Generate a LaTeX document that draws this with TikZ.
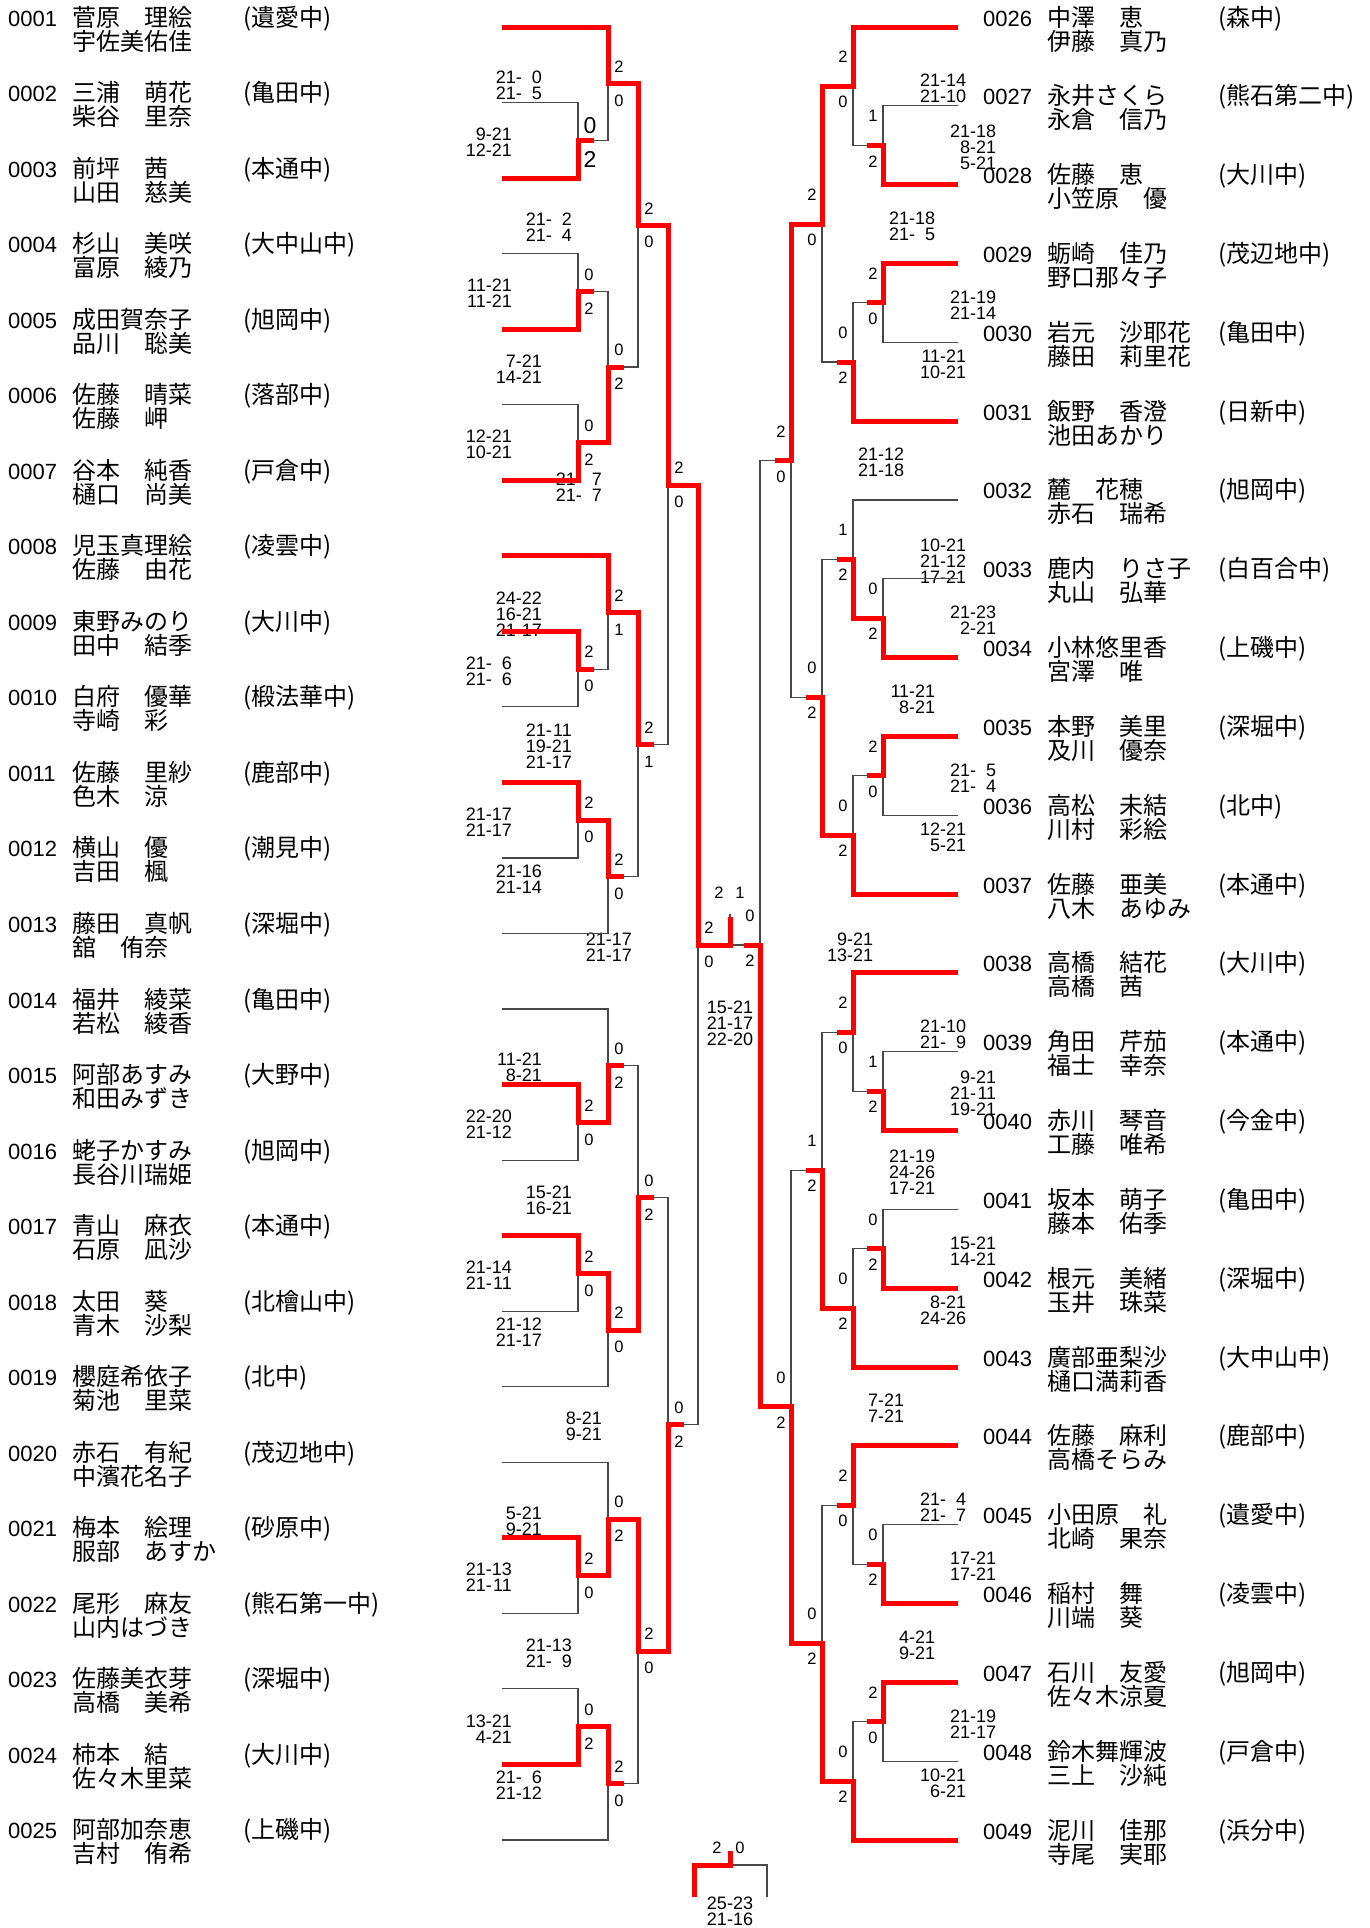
\documentclass[tikz,border=0pt]{standalone}
\usepackage{fontspec}
\setmainfont{Liberation Sans}
\newfontfamily\jp{Noto Sans CJK JP}
\usetikzlibrary{calc}
\definecolor{winred}{RGB}{255,0,0}
\definecolor{lossgray}{RGB}{72,72,72}
\newcommand\gsc[2]{\makebox[1.112em][r]{#1}-\makebox[1.112em][r]{#2}}
\newcommand\zs{\hspace*{1em}}

% bracket: match/x/y/upper/lower/winner
\def\leftgeo{a1/578/140.3/e2/e3/e3,a2/608/83.7/e1/a1/e1,
  a3/578/291.4/e4/e5/e5,a4/578/442.5/e6/e7/e7,
  a5/608/367.0/a3/a4/a4,a6/638/225.3/a2/a5/a2,
  a7/578/669.1/e9/e10/e9,a8/608/612.4/e8/a7/e8,
  a9/578/820.2/e11/e12/e11,a10/608/876.8/a9/e13/a9,
  a11/638/744.6/a8/a10/a8,a12/668/485.0/a6/a11/a6,
  a13/578/1122.4/e15/e16/e15,a14/608/1065.7/e14/a13/a13,
  a15/578/1273.4/e17/e18/e17,a16/608/1330.1/a15/e19/a15,
  a17/638/1197.9/a14/a16/a16,a18/578/1575.6/e21/e22/e21,
  a19/608/1519.0/e20/a18/a18,a20/578/1726.7/e23/e24/e24,
  a21/608/1783.3/a20/e25/a20,a22/638/1651.2/a19/a21/a19,
  a23/668/1424.5/a17/a22/a22,a24/698/945/a12/a23/a12}
\def\rightgeo{b1/883/145.3/e27/e28/e28,b2/853/86.1/e26/b1/e26,
  b3/883/302.9/e29/e30/e29,b4/853/362.0/b3/e31/e31,
  b5/822/224.1/b2/b4/b2,b6/883/618.2/e33/e34/e34,
  b7/853/559.1/e32/b6/b6,b8/883/775.9/e35/e36/e35,
  b9/853/835.0/b8/e37/e37,b10/822/697.1/b7/b9/b9,
  b11/791/460.6/b5/b10/b5,b12/883/1091.2/e39/e40/e40,
  b13/853/1032.1/e38/b12/e38,b14/883/1248.9/e41/e42/e42,
  b15/853/1308.0/b14/e43/e43,b16/822/1170.1/b13/b15/b15,
  b17/883/1564.2/e45/e46/e46,b18/853/1505.1/e44/b17/e44,
  b19/883/1721.9/e47/e48/e47,b20/853/1781.0/b19/e49/e49,
  b21/822/1643.0/b18/b20/b20,b22/791/1406.6/b16/b21/b21,
  b23/760/945/b11/b22/b22}

\begin{document}
\begin{tikzpicture}[x=1pt, y=-1pt,
  lost/.style={draw=lossgray, line width=1.1pt},
  won/.style={draw=winred, line width=5pt},
  idx/.style={font=\fontsize{22}{24}\selectfont, inner sep=0pt, anchor=base west},
  jname/.style={font={\jp\fontsize{24}{24}\selectfont}, inner sep=0pt, anchor=base west},
  res/.style={font=\fontsize{16.5}{18}\selectfont, inner sep=0pt},
  lsc/.style={font=\fontsize{18}{16}\selectfont, align=right, inner sep=0pt, anchor=east},
  rsc/.style={lsc, anchor=west},
  csc/.style={font=\fontsize{18}{16}\selectfont, align=center, inner sep=0pt},
]
\useasboundingbox (0,0) rectangle (1369,1928);

% entries, left half
\foreach [count=\k] \ix/\na/\nb/\sch in {0001/菅原\zs 理絵/宇佐美佑佳/遺愛中,
  0002/三浦\zs 萌花/柴谷\zs 里奈/亀田中,
  0003/前坪\zs 茜/山田\zs 慈美/本通中,
  0004/杉山\zs 美咲/富原\zs 綾乃/大中山中,
  0005/成田賀奈子/品川\zs 聡美/旭岡中,
  0006/佐藤\zs 晴菜/佐藤\zs 岬/落部中,
  0007/谷本\zs 純香/樋口\zs 尚美/戸倉中,
  0008/児玉真理絵/佐藤\zs 由花/凌雲中,
  0009/東野みのり/田中\zs 結季/大川中,
  0010/白府\zs 優華/寺崎\zs 彩/椴法華中,
  0011/佐藤\zs 里紗/色木\zs 涼/鹿部中,
  0012/横山\zs 優/吉田\zs 楓/潮見中,
  0013/藤田\zs 真帆/舘\zs 侑奈/深堀中,
  0014/福井\zs 綾菜/若松\zs 綾香/亀田中,
  0015/阿部あすみ/和田みずき/大野中,
  0016/蛯子かすみ/長谷川瑞姫/旭岡中,
  0017/青山\zs 麻衣/石原\zs 凪沙/本通中,
  0018/太田\zs 葵/青木\zs 沙梨/北檜山中,
  0019/櫻庭希依子/菊池\zs 里菜/北中,
  0020/赤石\zs 有紀/中濱花名子/茂辺地中,
  0021/梅本\zs 絵理/服部\zs あすか/砂原中,
  0022/尾形\zs 麻友/山内はづき/熊石第一中,
  0023/佐藤美衣芽/高橋\zs 美希/深堀中,
  0024/柿本\zs 結/佐々木里菜/大川中,
  0025/阿部加奈恵/吉村\zs 侑希/上磯中}{
  \coordinate (e\k) at (502,{27+75.54*(\k-1)});
  \node[idx] (no\k) at ([shift={(-494,-1)}]e\k) {\ix};
  \node[jname] (na\k) at ([xshift=64pt]no\k.base west) {\na};
  \node[jname] (nb\k) at ([yshift=-24pt]na\k.base west) {\nb};
  \node[jname] (sc\k) at ([xshift=235pt]no\k.base west) {(\sch)};
}

% entries, right half
\foreach [count=\k from 26] \ix/\na/\nb/\sch in {0026/中澤\zs 恵/伊藤\zs 真乃/森中,
  0027/永井さくら/永倉\zs 信乃/熊石第二中,
  0028/佐藤\zs 恵/小笠原\zs 優/大川中,
  0029/蛎崎\zs 佳乃/野口那々子/茂辺地中,
  0030/岩元\zs 沙耶花/藤田\zs 莉里花/亀田中,
  0031/飯野\zs 香澄/池田あかり/日新中,
  0032/麓\zs 花穂/赤石\zs 瑞希/旭岡中,
  0033/鹿内\zs りさ子/丸山\zs 弘華/白百合中,
  0034/小林悠里香/宮澤\zs 唯/上磯中,
  0035/本野\zs 美里/及川\zs 優奈/深堀中,
  0036/高松\zs 未結/川村\zs 彩絵/北中,
  0037/佐藤\zs 亜美/八木\zs あゆみ/本通中,
  0038/高橋\zs 結花/高橋\zs 茜/大川中,
  0039/角田\zs 芹茄/福士\zs 幸奈/本通中,
  0040/赤川\zs 琴音/工藤\zs 唯希/今金中,
  0041/坂本\zs 萌子/藤本\zs 佑季/亀田中,
  0042/根元\zs 美緒/玉井\zs 珠菜/深堀中,
  0043/廣部亜梨沙/樋口満莉香/大中山中,
  0044/佐藤\zs 麻利/高橋そらみ/鹿部中,
  0045/小田原\zs 礼/北崎\zs 果奈/遺愛中,
  0046/稲村\zs 舞/川端\zs 葵/凌雲中,
  0047/石川\zs 友愛/佐々木涼夏/旭岡中,
  0048/鈴木舞輝波/三上\zs 沙純/戸倉中,
  0049/泥川\zs 佳那/寺尾\zs 実耶/浜分中}{
  \coordinate (e\k) at (958,{27+78.83*(\k-26)});
  \node[idx] (no\k) at ([shift={(25,-1)}]e\k) {\ix};
  \node[jname] (na\k) at ([xshift=64pt]no\k.base west) {\na};
  \node[jname] (nb\k) at ([yshift=-24pt]na\k.base west) {\nb};
  \node[jname] (sc\k) at ([xshift=235pt]no\k.base west) {(\sch)};
}

% match points
\foreach \m/\x/\y/\hi/\lo/\wn in \leftgeo {\coordinate (\m) at (\x,\y);}
\foreach \m/\x/\y/\hi/\lo/\wn in \rightgeo {\coordinate (\m) at (\x,\y);}
\coordinate (fin) at (730,945);
\coordinate (t1) at (694,1897);
\coordinate (t2) at (767,1897);
\coordinate (thd) at (730,1865);

% games won
\node[res, font=\fontsize{23}{24}\selectfont] (a1-u) at ([shift={(12,-15)}]a1) {0};
\node[res, font=\fontsize{23}{24}\selectfont] (a1-d) at ([shift={(12,19)}]a1) {2};
\foreach \m/\ga/\gb in {a2/2/0,a3/0/2,a4/0/2,a5/0/2,a6/2/0,a7/2/0,a8/2/1,a9/2/0,
  a10/2/0,a11/2/1,a12/2/0,a13/2/0,a14/0/2,a15/2/0,a16/2/0,a17/0/2,a18/2/0,
  a19/0/2,a20/0/2,a21/2/0,a22/2/0,a23/0/2,a24/2/0}{
  \node[res] (\m-u) at ([shift={(11,-17)}]\m) {\ga};
  \node[res] (\m-d) at ([shift={(11,17)}]\m) {\gb};
}
\foreach \m/\ga/\gb in {b1/1/2,b2/2/0,b3/2/0,b4/0/2,b5/2/0,b6/0/2,b7/1/2,b8/2/0,
  b9/0/2,b10/0/2,b11/2/0,b12/1/2,b13/2/0,b14/0/2,b15/0/2,b16/1/2,b17/0/2,
  b18/2/0,b19/2/0,b20/0/2,b21/0/2,b22/0/2,b23/0/2}{
  \node[res] (\m-u) at ([shift={(-10,-29)}]\m) {\ga};
  \node[res] (\m-d) at ([shift={(-10,16)}]\m) {\gb};
}
\node[res] (fin-u) at ([shift={(-11,-52)}]fin) {2};
\node[res] (fin-v) at ([shift={(10,-52)}]fin) {1};
\node[res] (thd-u) at ([shift={(-13,-17)}]thd) {2};
\node[res] (thd-v) at ([shift={(10,-17)}]thd) {0};

% game scores
\foreach \m/\scr in {a1/{\gsc{9}{21}\\\gsc{12}{21}},
  a2/{\gsc{21}{0}\\\gsc{21}{5}},
  a3/{\gsc{11}{21}\\\gsc{11}{21}},
  a4/{\gsc{12}{21}\\\gsc{10}{21}},
  a5/{\gsc{7}{21}\\\gsc{14}{21}},
  a6/{\gsc{21}{2}\\\gsc{21}{4}},
  a7/{\gsc{21}{6}\\\gsc{21}{6}},
  a8/{\gsc{24}{22}\\\gsc{16}{21}\\\gsc{21}{17}},
  a9/{\gsc{21}{17}\\\gsc{21}{17}},
  a10/{\gsc{21}{16}\\\gsc{21}{14}},
  a11/{\gsc{21}{11}\\\gsc{19}{21}\\\gsc{21}{17}},
  a12/{\gsc{21}{7}\\\gsc{21}{7}},
  a13/{\gsc{22}{20}\\\gsc{21}{12}},
  a14/{\gsc{11}{21}\\\gsc{8}{21}},
  a15/{\gsc{21}{14}\\\gsc{21}{11}},
  a16/{\gsc{21}{12}\\\gsc{21}{17}},
  a17/{\gsc{15}{21}\\\gsc{16}{21}},
  a18/{\gsc{21}{13}\\\gsc{21}{11}},
  a19/{\gsc{5}{21}\\\gsc{9}{21}},
  a20/{\gsc{13}{21}\\\gsc{4}{21}},
  a21/{\gsc{21}{6}\\\gsc{21}{12}},
  a22/{\gsc{21}{13}\\\gsc{21}{9}},
  a23/{\gsc{8}{21}\\\gsc{9}{21}},
  a24/{\gsc{21}{17}\\\gsc{21}{17}}}
  \node[lsc] (\m-s) at ([shift={(-66,2)}]\m) {\scr};
\foreach \m/\scr in {b1/{\gsc{21}{18}\\\gsc{8}{21}\\\gsc{5}{21}},
  b2/{\gsc{21}{14}\\\gsc{21}{10}},
  b3/{\gsc{21}{19}\\\gsc{21}{14}},
  b4/{\gsc{11}{21}\\\gsc{10}{21}},
  b5/{\gsc{21}{18}\\\gsc{21}{5}},
  b6/{\gsc{21}{23}\\\gsc{2}{21}},
  b7/{\gsc{10}{21}\\\gsc{21}{12}\\\gsc{17}{21}},
  b8/{\gsc{21}{5}\\\gsc{21}{4}},
  b9/{\gsc{12}{21}\\\gsc{5}{21}},
  b10/{\gsc{11}{21}\\\gsc{8}{21}},
  b11/{\gsc{21}{12}\\\gsc{21}{18}},
  b12/{\gsc{9}{21}\\\gsc{21}{11}\\\gsc{19}{21}},
  b13/{\gsc{21}{10}\\\gsc{21}{9}},
  b14/{\gsc{15}{21}\\\gsc{14}{21}},
  b15/{\gsc{8}{21}\\\gsc{24}{26}},
  b16/{\gsc{21}{19}\\\gsc{24}{26}\\\gsc{17}{21}},
  b17/{\gsc{17}{21}\\\gsc{17}{21}},
  b18/{\gsc{21}{4}\\\gsc{21}{7}},
  b19/{\gsc{21}{19}\\\gsc{21}{17}},
  b20/{\gsc{10}{21}\\\gsc{6}{21}},
  b21/{\gsc{4}{21}\\\gsc{9}{21}},
  b22/{\gsc{7}{21}\\\gsc{7}{21}},
  b23/{\gsc{9}{21}\\\gsc{13}{21}}}
  \node[rsc] (\m-s) at ([shift={(67,2)}]\m) {\scr};
\node[csc] (fin-s) at ([shift={(0,78)}]fin) {\gsc{15}{21}\\\gsc{21}{17}\\\gsc{22}{20}};
\node[csc] (thd-s) at ([shift={(0,46)}]thd) {\gsc{25}{23}\\\gsc{21}{16}};

% thin lines first, winners on top
\foreach \m/\x/\y/\hi/\lo/\wn in \leftgeo {\draw[lost] (\hi) -| (\m) (\lo) -| (\m);}
\foreach \m/\x/\y/\hi/\lo/\wn in \rightgeo {\draw[lost] (\hi) -| (\m) (\lo) -| (\m);}
\draw[lost] (a24) -- (fin) (b23) -- (fin) -- ++(0,-31);
\draw[lost] (t1) |- (thd) (t2) |- (thd);

\foreach \m/\x/\y/\hi/\lo/\wn in \leftgeo {\draw[won] (\wn) -| (\m) -- ++(16,0);}
\foreach \m/\x/\y/\hi/\lo/\wn in \rightgeo {\draw[won] (\wn) -| (\m) -- ++(-16,0);}
\draw[won] (a24) -- (fin) -- ++(0,-28);
\draw[won] (t1) |- (thd) -- ++(0,-14);
\end{tikzpicture}
\end{document}
